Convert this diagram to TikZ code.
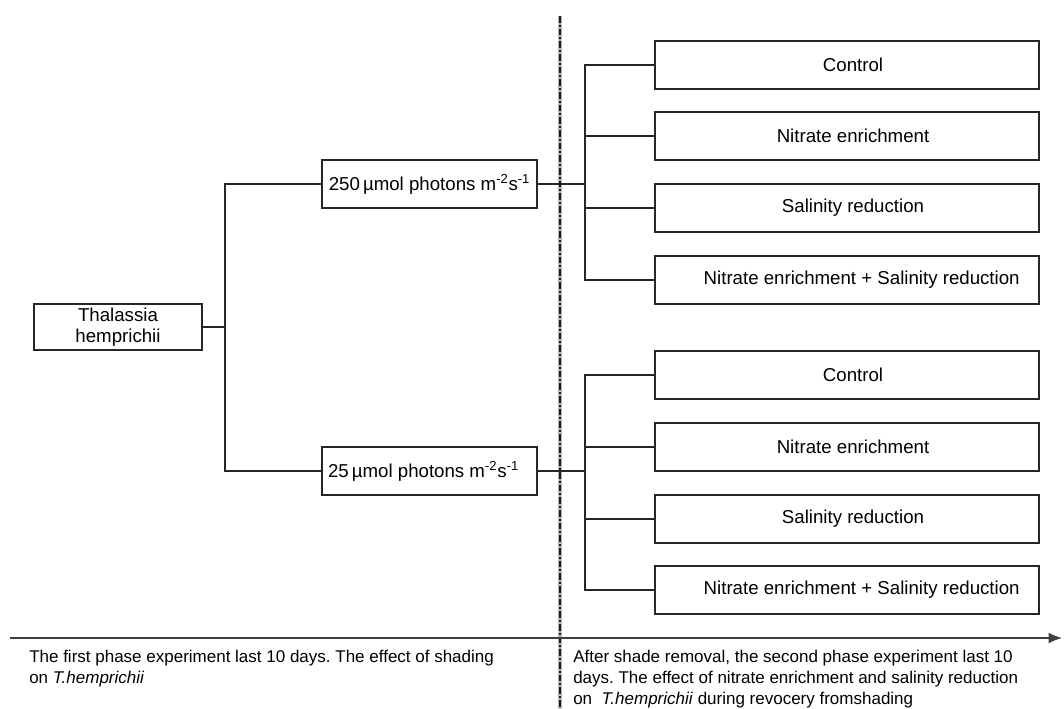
\documentclass[tikz,border=0pt]{standalone}
\usepackage{fontspec}
\setmainfont{Liberation Sans}
\usetikzlibrary{arrows.meta}
\frenchspacing
\begin{document}
\begin{tikzpicture}[x=0.75pt,y=-0.75pt,
  box/.style={draw=black!85, line width=1pt, inner sep=0pt, minimum height=36pt,
    font=\fontsize{14}{16}\selectfont, fill=white},
  rbox/.style={box, minimum width=288pt},
  pbox/.style={box, minimum width=161.25pt},
  conn/.style={draw=black!85, line width=0.85pt},
  note/.style={anchor=north west, inner sep=0pt, align=left,
    font=\fontsize{12.75}{15.75}\selectfont}]
\useasboundingbox (0,0) rectangle (1064,709);

% phase divider
\draw[gray!55, line width=2.4pt] (560,16) -- (560,709);
\draw[black!90, line width=1.4pt, dash pattern=on 5pt off 1.6pt on 1.3pt off 1.6pt] (560,16) -- (560,709);

% time axis
\coordinate (axL) at (10,638);
\coordinate (axR) at (1062,638);
\draw[black!75, line width=0.9pt, -{Latex[length=10pt,width=8pt]}] (axL) -- (axR);

% nodes
\node[box, minimum width=126pt, minimum height=34.5pt, align=center,
  font=\fontsize{14}{15.75}\selectfont] (thal) at (118,327) {Thalassia\\hemprichii};
\node[pbox] (p250) at (429.5,184) {250\,µmol photons m\textsuperscript{-2}s\textsuperscript{-1}};
\node[pbox] (p25) at (429.5,471) {\hspace*{-9pt}25\,µmol photons m\textsuperscript{-2}s\textsuperscript{-1}};

\node[rbox] (a1) at (847,65)  {\hspace*{9pt}Control};
\node[rbox] (a2) at (847,136) {\hspace*{9pt}Nitrate enrichment};
\node[rbox] (a3) at (847,208) {\hspace*{9pt}Salinity reduction};
\node[rbox] (a4) at (847,280) {\hspace*{22pt}Nitrate enrichment + Salinity reduction};

\node[rbox] (b1) at (847,375) {\hspace*{9pt}Control};
\node[rbox] (b2) at (847,447) {\hspace*{9pt}Nitrate enrichment};
\node[rbox] (b3) at (847,519) {\hspace*{9pt}Salinity reduction};
\node[rbox] (b4) at (847,590) {\hspace*{22pt}Nitrate enrichment + Salinity reduction};

% connectors: first phase
\coordinate (jL) at (225,327);
\draw[conn] (thal.east) -- (jL);
\draw[conn] (p250.west) -- (p250.west -| jL) -- (p25.west -| jL) -- (p25.west);

% connectors: second phase
\coordinate (jU) at (585,184);
\coordinate (jD) at (585,471);
\draw[conn] (p250.east) -- (jU);
\draw[conn] (a1.west) -- (a1.west -| jU) -- (a4.west -| jU) -- (a4.west);
\draw[conn] (a2.west -| jU) -- (a2.west);
\draw[conn] (a3.west -| jU) -- (a3.west);
\draw[conn] (p25.east) -- (jD);
\draw[conn] (b1.west) -- (b1.west -| jD) -- (b4.west -| jD) -- (b4.west);
\draw[conn] (b2.west -| jD) -- (b2.west);
\draw[conn] (b3.west -| jD) -- (b3.west);

% phase notes
\node[note] (n1) at (29,650) {The first phase experiment last 10 days. The effect of shading\\on \textit{T.hemprichii}};
\node[note] (n2) at (573,650) {After shade removal, the second phase experiment last 10\\days. The effect of nitrate enrichment and salinity reduction\\on\ \ \textit{T.hemprichii} during revocery fromshading};
\end{tikzpicture}
\end{document}
